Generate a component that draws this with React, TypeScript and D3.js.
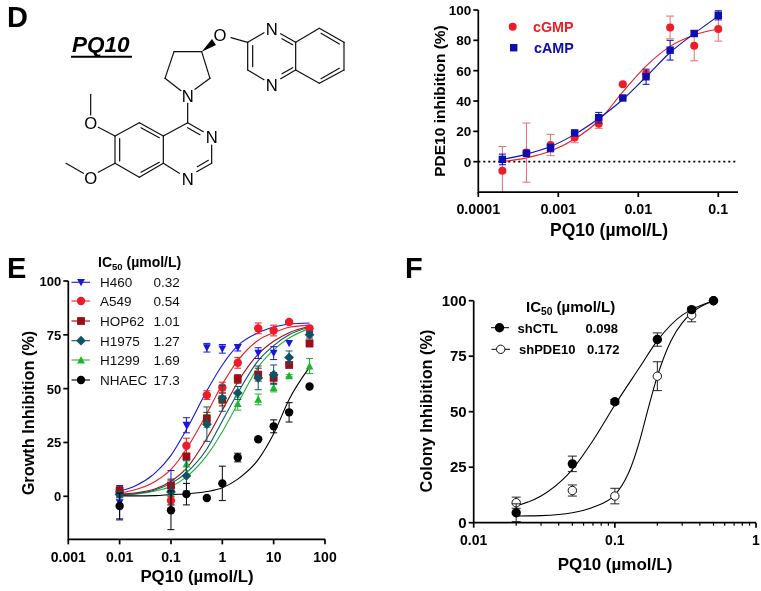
import React from "react";
import * as d3 from "d3";

const FONT = "'Liberation Sans', Arial, sans-serif";
const MU = "\u00B5";

// Panel D
const dDoses = [0.0002, 0.0004, 0.0008, 0.0016, 0.0032, 0.0064, 0.0125, 0.025, 0.05, 0.1];
const cGMP = [-6, 6, 11, 16, 25, 51, 58, 88.5, 76.5, 87.5];
const cGMPErr = [16, 19.5, 7, 3.5, 3, 0.5, 2, 7.5, 10, 8];
const cGMPFit = [0, 2.5, 7, 15, 27, 46, 63, 76, 83.5, 87.5];
const cAMP = [1.5, 5.5, 9, 19, 29, 42, 56, 73.5, 84.5, 96.5];
const cAMPErr = [3.5, 2, 2.5, 1.5, 3.5, 0.5, 5, 6.5, 1, 3];
const cAMPFit = [1.5, 5, 10, 18, 28.5, 41, 56, 72, 84.5, 96];
const dXTicks = [0.0001, 0.001, 0.01, 0.1];
const dXLabels = ["0.0001", "0.001", "0.01", "0.1"];
const dYTicks = [0, 20, 40, 60, 80, 100];

// Panel E
const eDoses = [0.01, 0.1, 0.2, 0.5, 1, 2, 5, 10, 20, 50];
const eFitDoses = [0.01, 0.02, 0.05, 0.1, 0.2, 0.5, 1, 2, 5, 10, 20, 50];
const h460 = [-3, 3, 33, 69, 68.5, 69, 66.5, 66.5, 71, 75];
const h460Err = [8, 9, 3.5, 2, 2, 1.5, 2.5, 3, 0, 0];
const h460Fit = [2.5, 4.8, 11, 19, 31, 49, 61, 70, 76, 78.5, 80, 80.5];
const a549 = [2, -2, 23.5, 47, 50.5, 62, 78, 77, 81, 78];
const a549Err = [2, 2, 3.5, 2, 2.5, 2.5, 2.5, 2.5, 0.5, 1];
const a549Fit = [1.5, 3, 7, 12.5, 22, 38.5, 52, 63, 72.5, 76, 78.5, 79.5];
const hop62 = [2.5, 5, 18.5, 36, 45, 54.5, 56.5, 55, 61, 71];
const hop62Err = [2, 2.5, 1, 3, 3, 2, 3, 2.5, 0.5, 1.5];
const hop62Fit = [1, 1.5, 3.5, 7, 13, 27, 40, 53, 66, 72, 76, 79];
const h1975 = [0.8, 2, 9.5, 33.5, 45.5, 48, 55, 56.5, 64.5, 75];
const h1975Err = [1.5, 6, 7, 8, 6, 3, 5.5, 4.5, 3, 1.5];
const h1975Fit = [0.8, 1.2, 3, 6, 11, 22, 35, 48, 63, 70, 75, 78.5];
const h1299 = [1, 1, 15, 35, 46, 43, 45, 50.5, 56, 60.5];
const h1299Err = [1.5, 3, 3, 3, 3, 3, 2.5, 2, 0.5, 3.5];
const h1299Fit = [0.5, 1, 2.5, 4.5, 9, 19, 30, 43, 60, 68, 73.5, 78];
const nhaec = [-4.5, -6.5, 1, -0.8, 6, 18, 26.5, 32.5, 39, 51];
const nhaecErr = [6, 9, 5, 0, 8, 2, 0.5, 3, 4.5, 0.5];
const nhaecFit = [0.2, 0.2, 0.3, 0.8, 1.1, 2.2, 4, 8, 17, 29, 45, 60];
const eNames = ["H460", "A549", "HOP62", "H1975", "H1299", "NHAEC"];
const eIC50 = ["0.32", "0.54", "1.01", "1.27", "1.69", "17.3"];
const eXTicks = [0.001, 0.01, 0.1, 1, 10, 100];
const eXLabels = ["0.001", "0.01", "0.1", "1", "10", "100"];
const eYTicks = [0, 25, 50, 75, 100];

// Panel F
const fDoses = [0.02, 0.05, 0.1, 0.2, 0.35, 0.5];
const shCTL = [4.5, 26.5, 54.5, 82.5, 96, 100];
const shCTLErr = [4, 3.5, 1, 3, 1, 0];
const shPDE10 = [9, 14.5, 12, 66, 93.5, 100];
const shPDE10Err = [2.5, 2.5, 3.5, 6.5, 3, 0];
const fFitCTLDoses = [0.02, 0.03, 0.05, 0.07, 0.1, 0.15, 0.2, 0.3, 0.35, 0.5];
const fFitCTL = [7.5, 12, 24, 37, 53, 70, 82, 93.5, 96, 100];
const fFitPDEDoses = [0.02, 0.03, 0.05, 0.07, 0.1, 0.13, 0.15, 0.17, 0.2, 0.25, 0.3, 0.35, 0.5];
const fFitPDE = [3, 3.2, 4.5, 7, 12.5, 25, 37, 50, 66, 82, 90, 94.5, 100];
const fXTicks = [0.01, 0.1, 1];
const fXLabels = ["0.01", "0.1", "1"];
const fMinor = [0.02, 0.03, 0.04, 0.05, 0.06, 0.07, 0.08, 0.09, 0.2, 0.3, 0.4, 0.5, 0.6, 0.7, 0.8, 0.9];
const fYTicks = [0, 25, 50, 75, 100];

// Structure of PQ10
const bonds: number[][] = [
  [887,127,958,85],[958,85,1032,127],[1032,127,1032,210],[1032,210,958,250],[958,250,887,210],[887,210,887,127],
  [963,100,1018,132],[1018,205,963,236],
  [887,127,842,101],[878,134,846,116],[887,210,842,236],[878,203,846,221],
  [743,127,792,98],[743,127,743,210],[758,137,758,200],[743,210,792,239],[693,113,743,127],
  [605,155,522,155],[522,155,495,235],[495,235,543,272],[585,268,630,235],[630,235,605,155],
  [563,310,563,368],[563,368,610,395],[563,383,600,404],[635,435,635,490],[635,490,590,515],[625,481,592,500],
  [538,520,490,490],[490,490,490,408],[490,408,563,368],[490,408,418,368],[418,368,345,408],[345,408,345,490],
  [345,490,418,532],[418,532,490,490],[423,383,478,413],[359,416,359,483],[423,517,478,487],
  [345,408,295,382],[272,345,272,283],[345,490,295,517],[250,520,198,490],
];
const atoms: [string, number, number][] = [
  ["N",815,87],["N",815,254],["O",660,105],["N",563,288],["N",635,412],["N",563,537],["O",272,368],["O",272,535],
];

const logX = (a: number, b: number, c: number, d: number) => d3.scaleLog().domain([a, b]).range([c, d]);
const linY = (a: number, b: number, c: number, d: number) => d3.scaleLinear().domain([a, b]).range([c, d]);
const curve = (xs: number[], ys: number[], x: any, y: any) =>
  d3.line<number>().x((d) => x(d)).y((_, i) => y(ys[i])).curve(d3.curveMonotoneX)(xs) || "";

function Marker({ kind, x, y, r, color, fill }: any) {
  const f = fill ?? color;
  if (kind === "circle") return <circle cx={x} cy={y} r={r} fill={f} stroke={color} strokeWidth={fill ? 1 : 0} />;
  if (kind === "square") return <rect x={x - r} y={y - r} width={2 * r} height={2 * r} fill={f} />;
  if (kind === "diamond") return <path d={`M${x},${y - r - 1}L${x + r + 1},${y}L${x},${y + r + 1}L${x - r - 1},${y}Z`} fill={f} />;
  if (kind === "up") return <path d={`M${x},${y - r}L${x + r},${y + r - 0.5}L${x - r},${y + r - 0.5}Z`} fill={f} />;
  return <path d={`M${x},${y + r}L${x + r},${y - r + 0.5}L${x - r},${y - r + 0.5}Z`} fill={f} />;
}

function Errs({ xs, ys, es, x, y, color, cap = 4, floor }: any) {
  return (
    <g stroke={color} strokeWidth={1} fill="none">
      {xs.map((d: number, i: number) => {
        if (!es[i]) return null;
        const px = x(d);
        const clipped = floor !== undefined && ys[i] - es[i] < floor;
        const lo = clipped ? floor : ys[i] - es[i];
        return (
          <g key={i}>
            <line x1={px} x2={px} y1={y(ys[i] + es[i])} y2={y(lo)} />
            <line x1={px - cap} x2={px + cap} y1={y(ys[i] + es[i])} y2={y(ys[i] + es[i])} />
            {!clipped && <line x1={px - cap} x2={px + cap} y1={y(lo)} y2={y(lo)} />}
          </g>
        );
      })}
    </g>
  );
}

function Axes({ x, y, xTicks, xLabels, yTicks, left, bottom, right, top, minor, xLabelY, ySize = 13.5, xSize = 13.5 }: any) {
  return (
    <g>
      <g stroke="#000" strokeWidth={1.7} fill="none">
        <path d={`M${left},${top}V${bottom}H${right}`} />
        {yTicks.map((t: number) => <line key={t} x1={left - 5} x2={left} y1={y(t)} y2={y(t)} />)}
        {xTicks.map((t: number) => <line key={t} x1={x(t)} x2={x(t)} y1={bottom} y2={bottom + 5} />)}
        {(minor || []).map((t: number) => <line key={t} x1={x(t)} x2={x(t)} y1={bottom} y2={bottom + 3} strokeWidth={1.2} />)}
      </g>
      <g fontFamily={FONT} fontWeight="bold" fill="#000">
        {yTicks.map((t: number) => (
          <text key={t} x={left - 7} y={y(t) + 5} textAnchor="end" fontSize={ySize}>{t}</text>
        ))}
        {xTicks.map((t: number, i: number) => (
          <text key={t} x={x(t)} y={xLabelY} textAnchor="middle" fontSize={xSize}>{xLabels[i]}</text>
        ))}
      </g>
    </g>
  );
}

function Title({ x, y, children, rotate, size = 16 }: any) {
  return (
    <text x={x} y={y} textAnchor="middle" fontFamily={FONT} fontWeight="bold" fontSize={size} fill="#000"
      transform={rotate ? `rotate(-90 ${x} ${y})` : undefined}>{children}</text>
  );
}

function IC50Head({ x, y, size }: any) {
  return (
    <text x={x} y={y} fontFamily={FONT} fontWeight="bold" fontSize={size} fill="#000">
      IC<tspan fontSize={size * 0.68} dy={3}>50</tspan><tspan dy={-3}>{` (${MU}mol/L)`}</tspan>
    </text>
  );
}

export default function App() {
  // Panel D
  const dx = logX(0.0001, 0.1, 478.3, 718.3);
  const dy = linY(0, 100, 161.7, 10);
  const dBottom = dy(-20);
  const RED = "#ee1c25";
  const RED_ERR = "#ef6a6a";
  const NAVY = "#0a0ab4";

  // Panel E
  const ex = logX(0.001, 100, 68.3, 325);
  const ey = linY(0, 100, 496.3, 281);
  const eBottom = ey(-20);
  const eSeries = [
    { name: "H1299", v: h1299, e: h1299Err, f: h1299Fit, c: "#1fb52f", k: "up" },
    { name: "H460", v: h460, e: h460Err, f: h460Fit, c: "#1616dc", k: "down" },
    { name: "A549", v: a549, e: a549Err, f: a549Fit, c: "#ee1c25", k: "circle" },
    { name: "HOP62", v: hop62, e: hop62Err, f: hop62Fit, c: "#9c0c14", k: "square" },
    { name: "H1975", v: h1975, e: h1975Err, f: h1975Fit, c: "#0f5566", k: "diamond" },
    { name: "NHAEC", v: nhaec, e: nhaecErr, f: nhaecFit, c: "#000000", k: "circle" },
  ];
  const eLegendY = [282.3, 301, 321, 340.7, 360, 380];
  const eLegendOrder = ["H460", "A549", "HOP62", "H1975", "H1299", "NHAEC"];

  // Panel F
  const fx = logX(0.01, 1, 473.7, 756);
  const fy = linY(0, 100, 522.7, 300.7);

  return (
    <svg width={761} height={591} viewBox="0 0 761 591"
      style={{ position: "absolute", left: 0, top: 0, background: "#fff" }}>
      <defs>
        <filter id="soft" x="0" y="0" width="100%" height="100%">
          <feGaussianBlur stdDeviation="0.35" />
        </filter>
      </defs>
      <g filter="url(#soft)">
        {/* Panel letters */}
        <g fontFamily={FONT} fontWeight="bold" fontSize={29} fill="#000">
          <text x={7} y={27}>D</text>
          <text x={7} y={278}>E</text>
          <text x={405} y={278}>F</text>
        </g>

        {/* Structure */}
        <text x={72} y={52} fontFamily={FONT} fontWeight="bold" fontStyle="italic" fontSize={22.5} fill="#000">PQ10</text>
        <line x1={71} x2={132} y1={56.7} y2={56.7} stroke="#000" strokeWidth={2} />
        <g transform="scale(0.33333)">
          <g stroke="#111" strokeWidth={3.6} fill="none" strokeLinecap="round">
            {bonds.map((b, i) => <line key={i} x1={b[0]} y1={b[1]} x2={b[2]} y2={b[3]} />)}
          </g>
          <path d="M605,155L636,117L648,135Z" fill="#000" />
          <g fontFamily={FONT} fontSize={50} fill="#000" textAnchor="middle">
            {atoms.map((a, i) => <text key={i} x={a[1]} y={a[2] + 18}>{a[0]}</text>)}
          </g>
        </g>

        {/* Panel D chart */}
        <line x1={478.3} x2={738} y1={dy(0)} y2={dy(0)} stroke="#000" strokeWidth={1.8} strokeDasharray="2 3" />
        <path d={curve(dDoses, cGMPFit, dx, dy)} fill="none" stroke={RED} strokeWidth={1.1} />
        <path d={curve(dDoses, cAMPFit, dx, dy)} fill="none" stroke={NAVY} strokeWidth={1.1} />
        <Errs xs={dDoses} ys={cGMP} es={cGMPErr} x={dx} y={dy} color={RED_ERR} cap={4} floor={-20} />
        {dDoses.map((d, i) => <Marker key={i} kind="circle" x={dx(d)} y={dy(cGMP[i])} r={4} color={RED} />)}
        <Errs xs={dDoses} ys={cAMP} es={cAMPErr} x={dx} y={dy} color={NAVY} cap={3.5} />
        {dDoses.map((d, i) => <Marker key={i} kind="square" x={dx(d)} y={dy(cAMP[i])} r={3.7} color={NAVY} />)}
        <Axes x={dx} y={dy} xTicks={dXTicks} xLabels={dXLabels} yTicks={dYTicks} left={478.3} bottom={dBottom} right={738} top={dy(100)} xLabelY={214} ySize={13.5} xSize={14.3} />
        <Marker kind="circle" x={512.7} y={26.7} r={4} color={RED} />
        <Marker kind="square" x={513.7} y={47.7} r={3.7} color={NAVY} />
        <text x={533} y={32} fontFamily={FONT} fontWeight="bold" fontSize={14.3} fill={RED}>cGMP</text>
        <text x={534} y={53} fontFamily={FONT} fontWeight="bold" fontSize={14.3} fill={NAVY}>cAMP</text>
        <Title x={445} y={101} rotate size={15.5}>PDE10 inhibition (%)</Title>
        <Title x={609} y={236} size={17.5}>{`PQ10 (${MU}mol/L)`}</Title>

        {/* Panel E chart */}
        {eSeries.map((s) => (
          <path key={s.name} d={curve(eFitDoses, s.f, ex, ey)} fill="none" stroke={s.c} strokeWidth={1.1} />
        ))}
        {eSeries.map((s) => (
          <g key={s.name}>
            <Errs xs={eDoses} ys={s.v} es={s.e} x={ex} y={ey} color={s.c} cap={3.5} />
            {eDoses.map((d, i) => <Marker key={i} kind={s.k} x={ex(d)} y={ey(s.v[i])} r={s.k === "circle" ? 4.2 : 3.9} color={s.c} />)}
          </g>
        ))}
        <Axes x={ex} y={ey} xTicks={eXTicks} xLabels={eXLabels} yTicks={eYTicks} left={68.3} bottom={eBottom} right={325} top={ey(100)} xLabelY={562} ySize={13} xSize={14} />
        <IC50Head x={98} y={267} size={14} />
        {eLegendOrder.map((n, i) => {
          const s = eSeries.find((q) => q.name === n)!;
          return (
            <g key={n}>
              <line x1={71.5} x2={90} y1={eLegendY[i]} y2={eLegendY[i]} stroke={s.c} strokeWidth={1.1} />
              <Marker kind={s.k} x={81} y={eLegendY[i]} r={s.k === "circle" ? 4.2 : 3.9} color={s.c} />
              <text x={100} y={eLegendY[i] + 5} fontFamily={FONT} fontSize={13.5} fill="#111">{eNames[i]}</text>
              <text x={153.5} y={eLegendY[i] + 5} fontFamily={FONT} fontSize={13.5} fill="#111">{eIC50[i]}</text>
            </g>
          );
        })}
        <Title x={34} y={413} rotate size={16.3}>Growth Inhibition (%)</Title>
        <Title x={197} y={582} size={16.8}>{`PQ10 (${MU}mol/L)`}</Title>

        {/* Panel F chart */}
        <path d={curve(fFitPDEDoses, fFitPDE, fx, fy)} fill="none" stroke="#000" strokeWidth={1.1} />
        <path d={curve(fFitCTLDoses, fFitCTL, fx, fy)} fill="none" stroke="#000" strokeWidth={1.1} />
        <Axes x={fx} y={fy} xTicks={fXTicks} xLabels={fXLabels} yTicks={fYTicks} left={473.7} bottom={fy(0)} right={756} top={fy(100)} minor={fMinor} xLabelY={545} ySize={15} xSize={14} />
        <Errs xs={fDoses} ys={shPDE10} es={shPDE10Err} x={fx} y={fy} color="#222" cap={4.5} />
        {fDoses.map((d, i) => <Marker key={i} kind="circle" x={fx(d)} y={fy(shPDE10[i])} r={4.2} color="#111" fill="#fff" />)}
        <Errs xs={fDoses} ys={shCTL} es={shCTLErr} x={fx} y={fy} color="#222" cap={4.5} />
        {fDoses.map((d, i) => <Marker key={i} kind="circle" x={fx(d)} y={fy(shCTL[i])} r={4.7} color="#000" />)}
        <IC50Head x={526} y={311.5} size={15} />
        <line x1={491} x2={509} y1={327.7} y2={327.7} stroke="#000" strokeWidth={1} />
        <Marker kind="circle" x={499.5} y={327.7} r={4.7} color="#000" />
        <line x1={491.5} x2={510} y1={349.3} y2={349.3} stroke="#000" strokeWidth={1} />
        <Marker kind="circle" x={500.7} y={349.3} r={4.2} color="#111" fill="#fff" />
        <g fontFamily={FONT} fontWeight="bold" fontSize={13} fill="#000">
          <text x={517.5} y={332.5}>shCTL</text>
          <text x={585.5} y={332.5}>0.098</text>
          <text x={519} y={354}>shPDE10</text>
          <text x={587} y={354}>0.172</text>
        </g>
        <Title x={432} y={411} rotate size={16.3}>Colony Inhibition (%)</Title>
        <Title x={615} y={570} size={17}>{`PQ10 (${MU}mol/L)`}</Title>
      </g>
    </svg>
  );
}
